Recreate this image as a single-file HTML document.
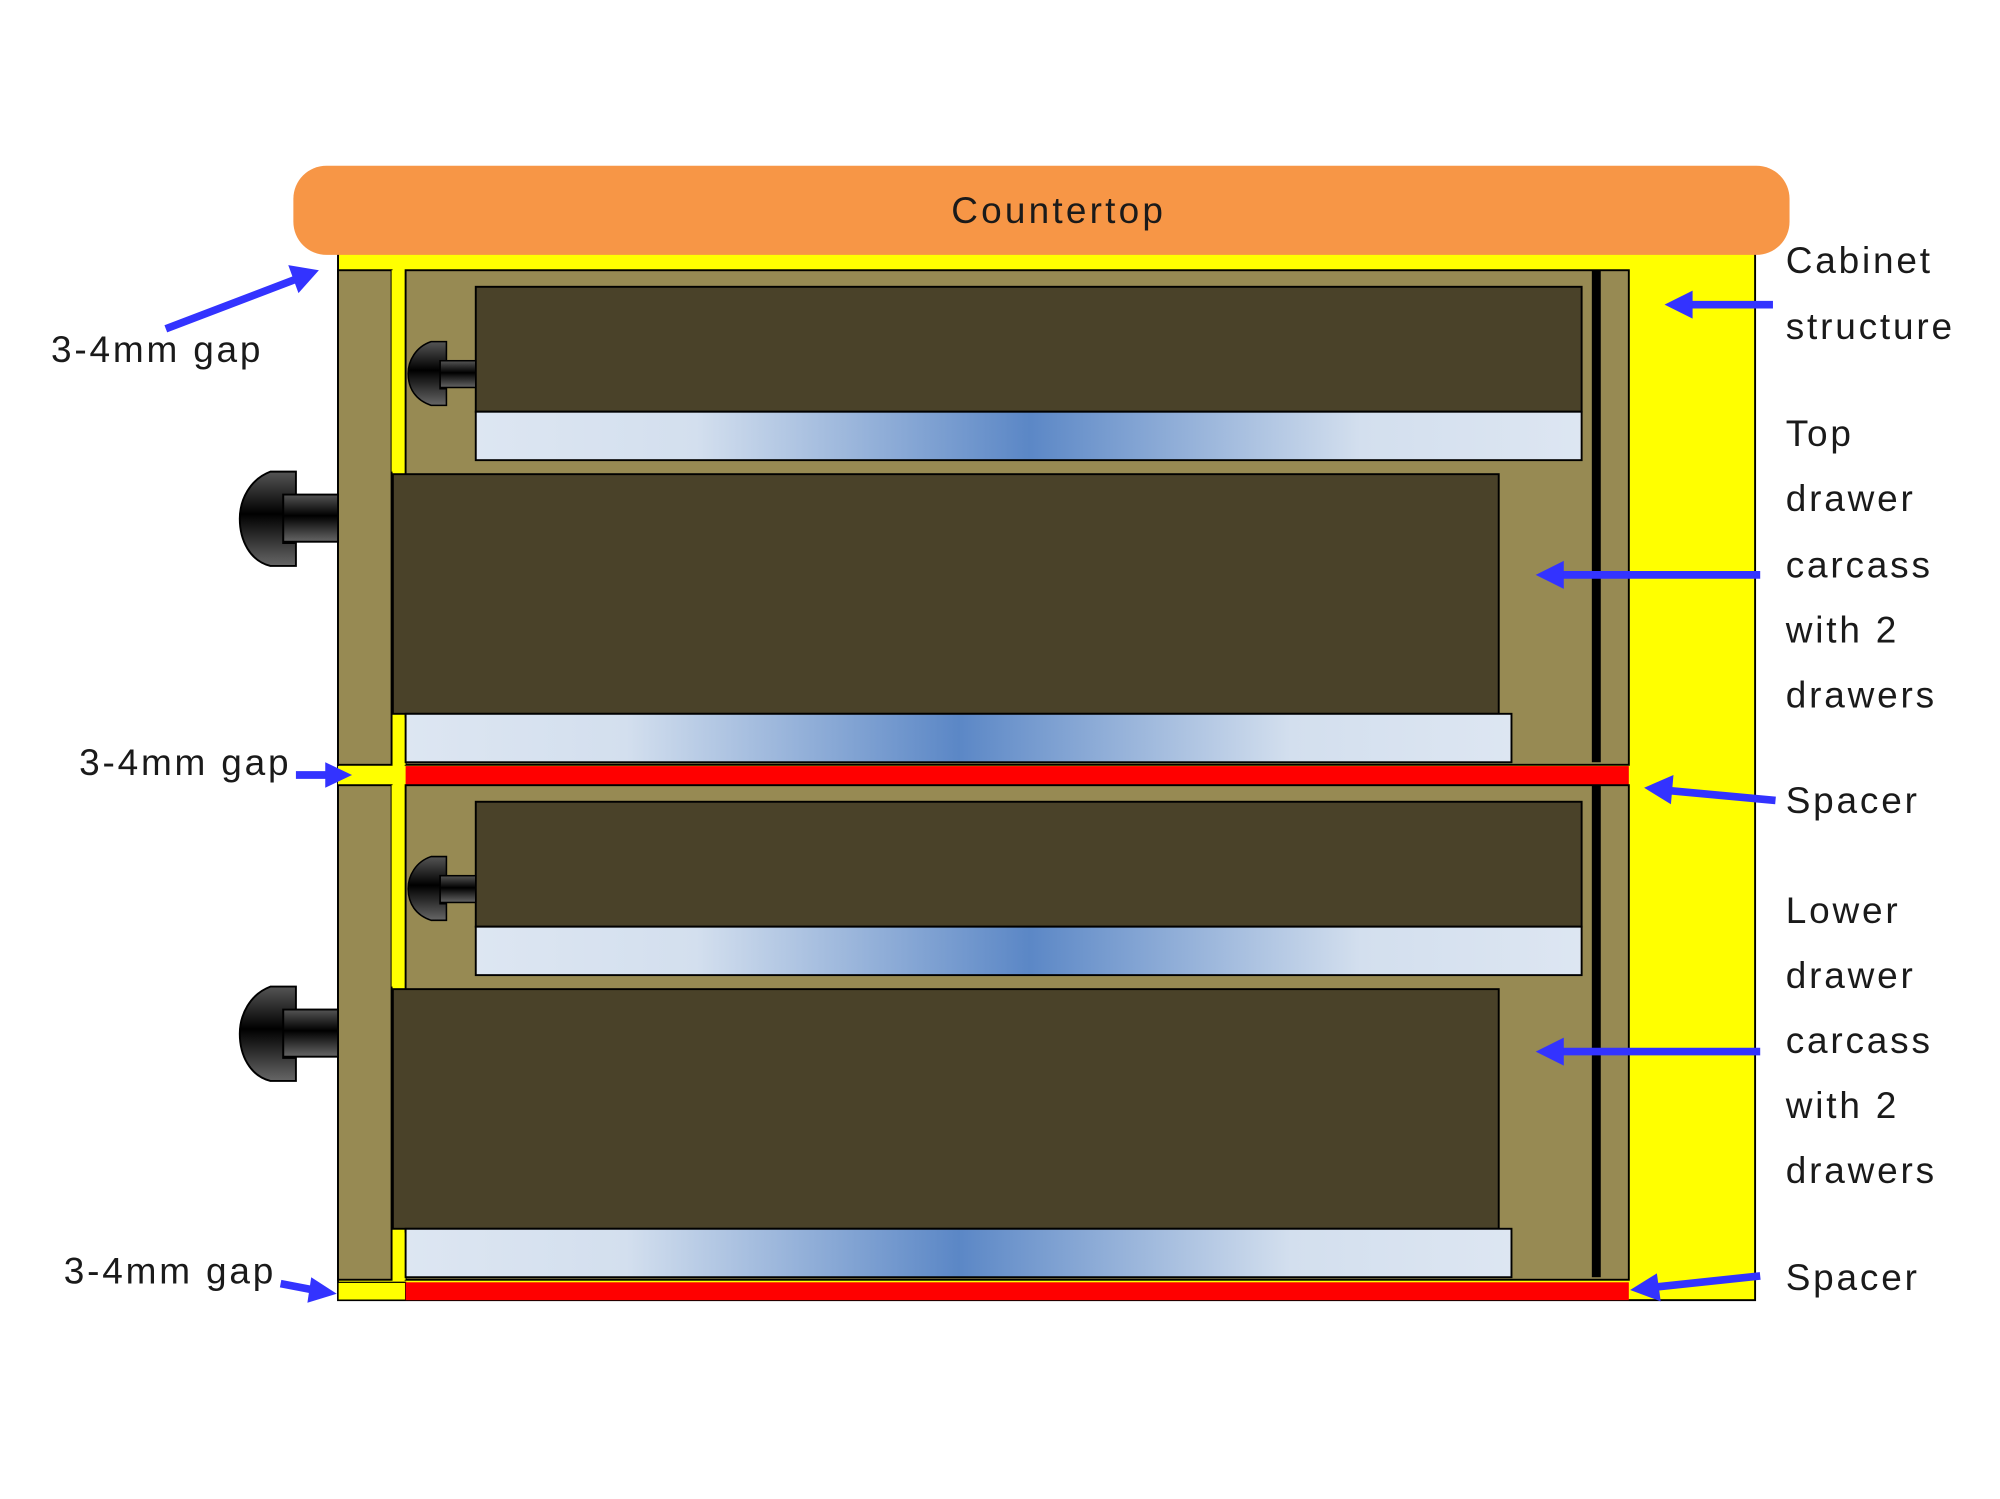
<!DOCTYPE html>
<html><head><meta charset="utf-8"><style>
html,body{margin:0;padding:0;background:#fff;}
svg{display:block;}
text{font-family:"Liberation Sans",sans-serif;fill:#1a1a1a;}
</style></head><body>
<svg width="2000" height="1499" viewBox="0 0 1568 1176" preserveAspectRatio="none" xmlns="http://www.w3.org/2000/svg">
<defs>
<linearGradient id="sl" x1="0" x2="1" y1="0" y2="0">
<stop offset="0" stop-color="#dde6f2"/><stop offset="0.2" stop-color="#d3dfee"/>
<stop offset="0.5" stop-color="#5b87c6"/><stop offset="0.8" stop-color="#d3dfee"/><stop offset="1" stop-color="#dde6f2"/>
</linearGradient>
<linearGradient id="kn" x1="0" x2="0" y1="0" y2="1">
<stop offset="0" stop-color="#555"/><stop offset="0.45" stop-color="#000"/><stop offset="1" stop-color="#666"/>
</linearGradient>
<g id="knobB">
<rect x="222" y="388" width="43" height="37" fill="url(#kn)" stroke="#000" stroke-width="1.5"/>
<path d="M232,370 L212,370 C196,376 188,392 188,407 C188,424 196,440 212,444 L232,444 L232,426 L222,426 L222,388 L232,388 Z" fill="url(#kn)" stroke="#000" stroke-width="1.5"/>
</g>
<g id="knobS">
<rect x="345" y="283" width="28" height="21" fill="url(#kn)" stroke="#000" stroke-width="1.2"/>
<path d="M350,268 L338,268 C326,272 320,283 320,293 C320,305 326,314 338,318 L350,318 L350,305 L345,305 L345,283 L350,283 Z" fill="url(#kn)" stroke="#000" stroke-width="1.2"/>
</g>
<g id="unit">
<rect x="265" y="212" width="42" height="388" fill="#978a53" stroke="#000" stroke-width="1.5"/>
<rect x="307" y="212" width="11" height="158" fill="#ffff00"/>
<rect x="318" y="212" width="959" height="388" fill="#978a53" stroke="#000" stroke-width="1.5"/>
<rect x="1248" y="212" width="7" height="386" fill="#000"/>
<rect x="373" y="225" width="867" height="98" fill="#4a4229" stroke="#000" stroke-width="1.5"/>
<rect x="373" y="323" width="867" height="38" fill="url(#sl)" stroke="#000" stroke-width="1.5"/>
<use href="#knobS"/>
<rect x="308" y="372" width="867" height="188" fill="#4a4229" stroke="#000" stroke-width="1.5"/>
<rect x="308" y="563" width="10" height="37" fill="#ffff00"/>
<rect x="318" y="560" width="867" height="38" fill="url(#sl)" stroke="#000" stroke-width="1.5"/>
<use href="#knobB"/>
</g>
</defs>
<rect x="265" y="195" width="1111" height="825" fill="#ffff00" stroke="#000" stroke-width="1.5"/>
<rect x="230" y="130" width="1173" height="70" rx="26" fill="#f79646"/>
<text x="830" y="175" font-size="29" text-anchor="middle" letter-spacing="2.5">Countertop</text>
<use href="#unit"/>
<rect x="265" y="601" width="53" height="15" fill="#ffff00"/>
<rect x="318" y="601" width="959" height="15" fill="#ff0000"/>
<use href="#unit" transform="translate(0,404)"/>
<rect x="265" y="1006" width="53" height="14" fill="#ffff00" stroke="#000" stroke-width="1"/>
<rect x="318" y="1006" width="959" height="14" fill="#ff0000"/>
<g stroke="#3333ff" stroke-width="6" fill="#3333ff">
<line x1="130" y1="258" x2="232" y2="219"/><polygon points="250,212 226,208 234,230" stroke="none"/>
<line x1="232" y1="608" x2="258" y2="608"/><polygon points="276,608 255,598 255,618" stroke="none"/>
<line x1="220" y1="1007" x2="246" y2="1012"/><polygon points="264,1015 244,1002 241,1022" stroke="none"/>
<line x1="1390" y1="239" x2="1322" y2="239"/><polygon points="1305,239 1327,228 1327,250" stroke="none"/>
<line x1="1380" y1="451" x2="1222" y2="451"/><polygon points="1204,451 1226,440 1226,462" stroke="none"/>
<line x1="1392" y1="628" x2="1306" y2="620"/><polygon points="1289,618 1312,608 1310,631" stroke="none"/>
<line x1="1380" y1="825" x2="1222" y2="825"/><polygon points="1204,825 1226,814 1226,836" stroke="none"/>
<line x1="1380" y1="1001" x2="1295" y2="1010"/><polygon points="1278,1012 1299,999 1302,1021" stroke="none"/>
</g>
<g font-size="29" letter-spacing="2.2">
<text x="40" y="284">3-4mm gap</text>
<text x="62" y="608">3-4mm gap</text>
<text x="50" y="1007">3-4mm gap</text>
<text x="1400" y="214">Cabinet</text>
<text x="1400" y="266">structure</text>
<text x="1400" y="350">Top</text>
<text x="1400" y="401">drawer</text>
<text x="1400" y="453">carcass</text>
<text x="1400" y="504">with 2</text>
<text x="1400" y="555">drawers</text>
<text x="1400" y="638">Spacer</text>
<text x="1400" y="724">Lower</text>
<text x="1400" y="775">drawer</text>
<text x="1400" y="826">carcass</text>
<text x="1400" y="877">with 2</text>
<text x="1400" y="928">drawers</text>
<text x="1400" y="1012">Spacer</text>
</g>
</svg>
</body></html>
